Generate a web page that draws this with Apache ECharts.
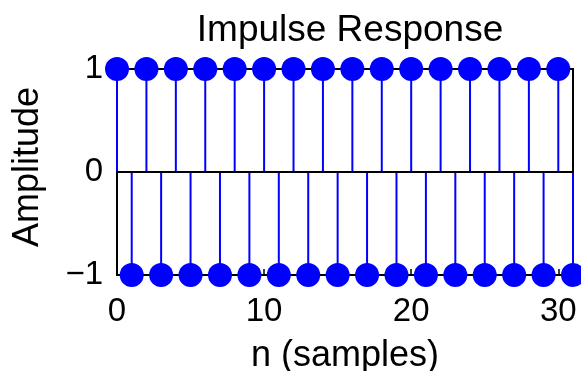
<!DOCTYPE html>
<html>
<head>
<meta charset="utf-8">
<script src="https://cdn.jsdelivr.net/npm/echarts@6/dist/echarts.min.js"></script>
<style>
html,body{margin:0;padding:0;background:#fff;}
#chart{width:581px;height:371px;}
</style>
</head>
<body>
<div id="chart"></div>
<script>
var nValues = [0,1,2,3,4,5,6,7,8,9,10,11,12,13,14,15,16,17,18,19,20,21,22,23,24,25,26,27,28,29,30,31];
var amplitude = [1,-1,1,-1,1,-1,1,-1,1,-1,1,-1,1,-1,1,-1,1,-1,1,-1,1,-1,1,-1,1,-1,1,-1,1,-1,1,-1];
var xTicks = [0,10,20,30];
var yTicks = [-1,0,1];
var titleText = 'Impulse Response';
var xLabel = 'n (samples)';
var yLabel = 'Amplitude';

var FONT = 'Liberation Sans, Arial, sans-serif';
var points = nValues.map(function(n, i){ return [n, amplitude[i]]; });

var chart = echarts.init(document.getElementById('chart'), null, {renderer:'canvas'});
var fmt = function(v){ return String(v).replace('-', '\u2212'); };

chart.setOption({
  animation: false,
  backgroundColor: '#fff',
  title: {
    text: titleText,
    left: 345, top: 7, textAlign: 'center',
    textStyle: {fontFamily: FONT, fontSize: 37, fontWeight: 'normal', color: '#000'}
  },
  grid: {left: 117, right: 8, top: 69, bottom: 96, containLabel: false, outerBoundsMode: 'none',
         show: true, borderColor: '#000', borderWidth: 2, backgroundColor: 'transparent'},
  xAxis: [{
    type: 'value', min: 0, max: 31, position: 'bottom',
    name: xLabel, nameLocation: 'middle', nameGap: 63,
    nameTextStyle: {fontFamily: FONT, fontSize: 36, color: '#000'},
    axisLine: {show: false, onZero: false},
    axisTick: {show: true, inside: true, length: 6, customValues: xTicks, lineStyle: {color: '#000', width: 1.5}},
    axisLabel: {customValues: xTicks, fontFamily: FONT, fontSize: 33, color: '#000', margin: 20, formatter: fmt},
    splitLine: {show: false}
  }, {
    type: 'value', min: 0, max: 31, position: 'top',
    axisLine: {show: false, onZero: false},
    axisTick: {show: true, inside: true, length: 6, customValues: xTicks, lineStyle: {color: '#000', width: 1.5}},
    axisLabel: {show: false}, splitLine: {show: false}
  }],
  yAxis: [{
    type: 'value', min: -1, max: 1, position: 'left',
    name: yLabel, nameLocation: 'middle', nameGap: 71, nameRotate: 90,
    nameTextStyle: {fontFamily: FONT, fontSize: 36, color: '#000', padding: [0, 0, 0, 10]},
    axisLine: {show: false, onZero: false},
    axisTick: {show: true, inside: true, length: 6, customValues: yTicks, lineStyle: {color: '#000', width: 1.5}},
    axisLabel: {customValues: yTicks, fontFamily: FONT, fontSize: 33, color: '#000', margin: 14, formatter: fmt},
    splitLine: {show: false}
  }, {
    type: 'value', min: -1, max: 1, position: 'right',
    axisLine: {show: false, onZero: false},
    axisTick: {show: true, inside: true, length: 6, customValues: yTicks, lineStyle: {color: '#000', width: 1.5}},
    axisLabel: {show: false}, splitLine: {show: false}
  }],
  series: [{
    type: 'custom',
    clip: false,
    z: 3,
    data: points,
    renderItem: function(params, api){
      var n = api.value(0), v = api.value(1);
      var p0 = api.coord([n, 0]);
      var p1 = api.coord([n, v]);
      return {type: 'line', shape: {x1: p0[0], y1: p0[1], x2: p1[0], y2: p1[1]},
              style: {stroke: '#0000ff', lineWidth: 2}};
    },
    markLine: {
      silent: true, symbol: 'none', animation: false,
      label: {show: false},
      lineStyle: {color: '#000', width: 2, type: 'solid'},
      data: [{yAxis: 0}]
    }
  }, {
    type: 'scatter',
    clip: false,
    z: 4,
    data: points,
    symbol: 'circle',
    symbolSize: 24,
    itemStyle: {color: '#0000ff', opacity: 1}
  }]
});
</script>
</body>
</html>
